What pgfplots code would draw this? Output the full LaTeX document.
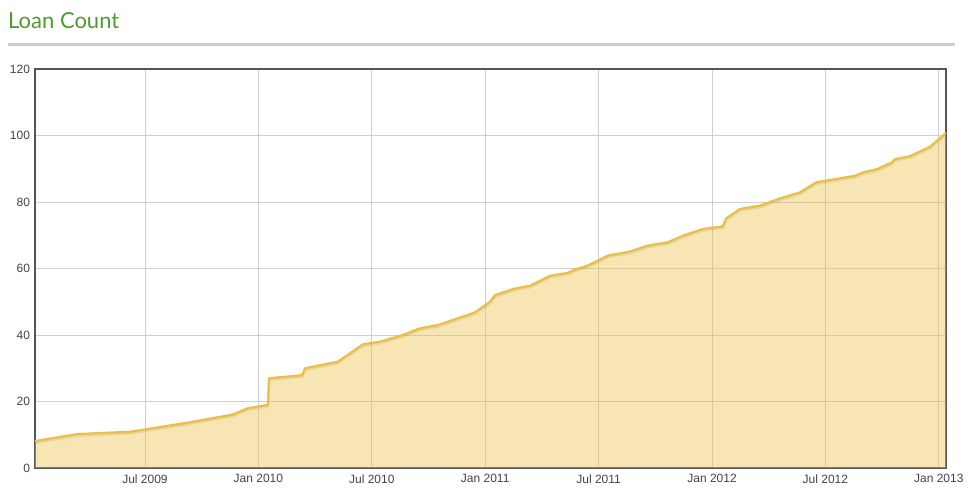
\documentclass[border=0pt]{standalone}
\usepackage{pgfplots}
\pgfplotsset{compat=1.18}
\usepackage{fontspec}
\setmainfont{Liberation Sans}
\newfontfamily\titlefont{Lato}
\definecolor{titlegreen}{HTML}{4E9A2A}
\definecolor{rulegray}{HTML}{CCCCCC}
\definecolor{framegray}{HTML}{555555}
\definecolor{ticktext}{HTML}{444444}
\definecolor{gold}{HTML}{ECBF42}
\definecolor{gridgray}{HTML}{CFCFCF}
\pgfplotstableread{
m v
0.18 8.1
2.40 10.2
5.21 10.9
8.22 13.6
10.66 16.1
11.45 18.0
12.51 19.0
12.56 27.0
14.31 27.9
14.47 30.0
15.79 31.5
16.21 32.0
17.53 37.2
18.43 38.0
19.65 40.0
20.55 42.0
21.50 43.0
23.46 46.8
24.25 50.0
24.52 52.0
25.58 54.0
26.37 54.8
27.43 57.8
28.38 58.7
28.75 59.7
29.39 60.8
30.50 63.9
31.66 65.1
32.61 66.9
33.67 67.9
34.47 69.9
35.52 71.9
36.58 72.7
36.74 75.0
37.48 77.9
38.54 78.9
39.60 81.1
40.66 82.9
41.50 85.9
43.57 87.9
43.99 88.9
44.73 89.9
45.52 91.9
45.68 92.9
46.48 93.8
47.53 96.6
48.38 100.8
}\loans
\begin{document}
\begin{tikzpicture}
\useasboundingbox (0pt,0pt) rectangle (974pt,497pt);
\node[anchor=base west, inner sep=0pt, text=titlegreen, font=\titlefont\fontsize{22}{26}\selectfont] at (8pt,468pt) {Loan Count};
\fill[rulegray] (8pt,450.5pt) rectangle (955pt,453.5pt);
\begin{axis}[
  at={(35pt,29pt)}, anchor=south west,
  scale only axis, width=911pt, height=399pt,
  xmin=0.18, xmax=48.38, ymin=0, ymax=120,
  xtick={6,12,18,24,30,36,42,48},
  xticklabels={Jul 2009,Jan 2010,Jul 2010,Jan 2011,Jul 2011,Jan 2012,Jul 2012,Jan 2013},
  ytick={0,20,40,60,80,100,120},
  grid=major,
  major grid style={color=gridgray, line width=0.8pt},
  major tick length=0pt,
  axis line style={line width=2pt, color=framegray},
  tick label style={font=\fontsize{12}{14}\selectfont, text=ticktext},
  /pgf/number format/assume math mode=true,
  yticklabel style={xshift=-1.5pt},
  xticklabel style={yshift=-3pt},
  clip=true,
]
\addplot[draw=none, fill=gold, fill opacity=0.4] table[x=m,y=v]{\loans} \closedcycle;
\addplot[draw=black, opacity=0.08, line width=2.5pt, yshift=-1.5pt] table[x=m,y=v]{\loans};
\addplot[draw=gold, line width=2.2pt, line join=round] table[x=m,y=v]{\loans};
\end{axis}
\end{tikzpicture}
\end{document}
